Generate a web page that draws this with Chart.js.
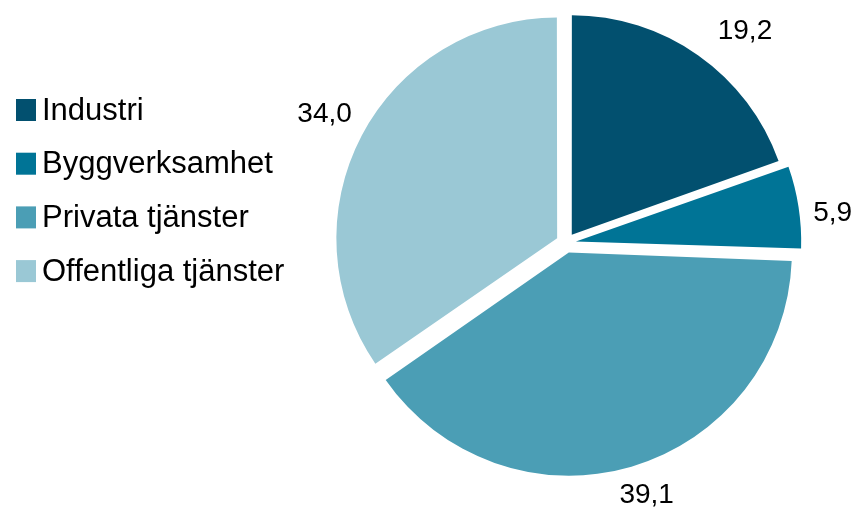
<!DOCTYPE html>
<html>
<head>
<meta charset="utf-8">
<script src="https://cdn.jsdelivr.net/npm/chart.js@4"></script>
<style>
  html, body { margin: 0; padding: 0; background: #fff; }
  #wrap { width: 859px; height: 510px; }
</style>
</head>
<body>
<div id="wrap"><canvas id="chart"></canvas></div>
<script>
const categories = ['Industri', 'Byggverksamhet', 'Privata tjänster', 'Offentliga tjänster'];
const shares = [19.2, 5.9, 39.1, 34.0];
const valueLabels = ['19,2', '5,9', '39,1', '34,0'];
const colors = ['#02506F', '#007496', '#4B9EB5', '#9AC8D5'];

const LEGEND_FONT = '31px "Liberation Sans", Arial, sans-serif';
const VALUE_FONT = '28px "Liberation Sans", Arial, sans-serif';

// small hand nudges so labels sit where Excel put them
const labelNudge = [[24, 7], [4, 10], [7, 0], [1, -3]];

// legend drawn on the left, one row per category
const sideLegend = {
    id: 'sideLegend',
    afterDraw(chart) {
        const ctx = chart.ctx;
        ctx.save();
        ctx.font = LEGEND_FONT;
        ctx.textBaseline = 'middle';
        ctx.textAlign = 'left';
        categories.forEach((name, i) => {
            const y = 110 + i * 53.7;
            ctx.fillStyle = colors[i];
            ctx.fillRect(16, y - 11, 20, 22);
            ctx.fillStyle = '#000';
            ctx.fillText(name, 42, y + 1);
        });
        ctx.restore();
    }
};

// value labels just outside each slice
const outsideLabels = {
    id: 'outsideLabels',
    afterDatasetsDraw(chart) {
        const ctx = chart.ctx;
        const meta = chart.getDatasetMeta(0);
        ctx.save();
        ctx.font = VALUE_FONT;
        ctx.fillStyle = '#000';
        ctx.textAlign = 'center';
        ctx.textBaseline = 'middle';
        meta.data.forEach((arc, i) => {
            const mid = (arc.startAngle + arc.endAngle) / 2;
            const shift = (arc.options.offset || 0) / 4;
            const w = ctx.measureText(valueLabels[i]).width;
            const h = 20;
            const c = Math.cos(mid), s = Math.sin(mid);
            const dist = arc.outerRadius + shift + 16 + Math.abs(c) * w / 2 + Math.abs(s) * h / 2;
            const [nx, ny] = labelNudge[i];
            ctx.fillText(valueLabels[i], arc.x + c * dist + nx, arc.y + s * dist + ny + 1);
        });
        ctx.restore();
    }
};

new Chart(document.getElementById('chart'), {
    type: 'pie',
    data: {
        labels: categories,
        datasets: [{
            data: shares,
            backgroundColor: colors,
            borderWidth: 0,
            offset: 40,
            radius: 219,
        }]
    },
    options: {
        responsive: true,
        maintainAspectRatio: false,
        animation: false,
        layout: { padding: { left: 300, right: 27, top: 0, bottom: 24 } },
        plugins: {
            legend: { display: false },
            tooltip: { enabled: false },
        },
    },
    plugins: [sideLegend, outsideLabels],
});
</script>
</body>
</html>
